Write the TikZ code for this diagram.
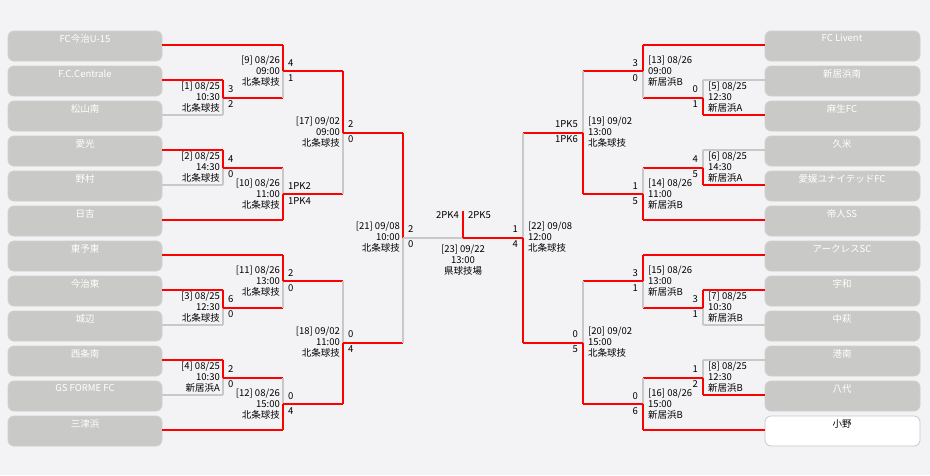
\documentclass[tikz,border=0pt]{standalone}
\usepackage{fontspec}
\setmainfont{Noto Sans CJK JP}
\definecolor{bg}{HTML}{F3F2F5}
\definecolor{boxg}{HTML}{C9CAC7}
\definecolor{lg}{HTML}{C8C8C8}
\tikzset{win/.style={draw=red,line width=2pt},
 lose/.style={draw=lg,line width=2pt},
 team/.style={rounded corners=6pt,fill=boxg,draw=boxg!85!white,line width=0.8pt},
 tname/.style={text=white,font=\fontsize{9.5}{10}\selectfont,anchor=north},
 sc/.style={font=\fontsize{9.5}{10}\selectfont,inner sep=0pt},
 info/.style={font=\fontsize{9.5}{11}\selectfont,inner sep=0pt}}
\newcommand\mt[9]{%
 \pgfmathsetmacro\ym{(#2+#3)/2}%
 \ifnum#4=1 \draw[lose] (#1,\ym)--(#1,#3); \draw[win] (#1,#2)--(#1,\ym);
 \else \draw[lose] (#1,#2)--(#1,\ym); \draw[win] (#1,\ym)--(#1,#3); \fi
 \draw[#6] (#1,\ym)--(#5,\ym);
 \ifnum#7=1
  \node[sc,anchor=west] at (#1+5,\ym-8) {#8};
  \node[sc,anchor=west] at (#1+5,\ym+7) {#9};
 \else
  \node[sc,anchor=east] at (#1-5,\ym-8) {#8};
  \node[sc,anchor=east] at (#1-5,\ym+7) {#9};
 \fi}
\newcommand\minfo[4]{%
 \ifnum#3=1 \node[info,anchor=east,align=right] at (#1-3,#2) {#4};
 \else \node[info,anchor=west,align=left] at (#1+5,#2) {#4}; \fi}
\begin{document}
\begin{tikzpicture}[x=1pt,y=-1pt]
\fill[bg] (0,0) rectangle (930,475);
\useasboundingbox (0,0) rectangle (930,475);
\foreach \n [count=\i from 0] in {FC今治U-15,F.C.Centrale,松山南,愛光,野村,日吉,東予東,今治東,城辺,西条南,GS FORME FC,三津浜}{
 \draw[team] (8,31+35*\i) rectangle (162,61+35*\i);
 \node[tname] (L\i) at (85,31+35*\i) {\n};}
\foreach \n [count=\i from 0] in {FC Livent,新居浜南,麻生FC,久米,愛媛ユナイテッドFC,帝人SS,アークレスSC,宇和,中萩,港南,八代}{
 \draw[team] (765,31+35*\i) rectangle (920,61+35*\i);
 \node[tname] (R\i) at (842,31+35*\i) {\n};}
\draw[rounded corners=6pt,fill=white,draw=lg,line width=0.8pt] (765,416) rectangle (920,446);
\node[tname,text=black] (R11) at (842,416) {小野};
\foreach \r/\xe/\s in {2/223/lose,4/223/lose,8/223/lose,10/223/lose,0/283/win,1/223/win,3/223/win,5/283/win,6/283/win,7/223/win,9/223/win,11/283/win}
 \draw[\s] (162,45+35*\r)--(\xe,45+35*\r);
\foreach \r/\xe/\s in {1/703/lose,3/703/lose,8/703/lose,9/703/lose,0/643/win,2/703/win,4/703/win,5/643/win,6/643/win,7/703/win,10/703/win,11/643/win}
 \draw[\s] (765,45+35*\r)--(\xe,45+35*\r);
\mt{223}{80}{115}{1}{283}{win}{1}{3}{2}\minfo{223}{97.5}{1}{[1] 08/25\\10:30\\北条球技}
\mt{223}{150}{185}{1}{283}{win}{1}{4}{0}\minfo{223}{167.5}{1}{[2] 08/25\\14:30\\北条球技}
\mt{223}{290}{325}{1}{283}{win}{1}{6}{0}\minfo{223}{307.5}{1}{[3] 08/25\\12:30\\北条球技}
\mt{223}{360}{395}{1}{283}{win}{1}{2}{0}\minfo{223}{377.5}{1}{[4] 08/25\\10:30\\新居浜A}
\mt{283}{45}{97.5}{1}{343}{win}{1}{4}{1}\minfo{283}{71.25}{1}{[9] 08/26\\09:00\\北条球技}
\mt{283}{167.5}{220}{0}{343}{win}{1}{1PK2}{1PK4}\minfo{283}{193.75}{1}{[10] 08/26\\11:00\\北条球技}
\mt{283}{255}{307.5}{1}{343}{win}{1}{2}{0}\minfo{283}{281.25}{1}{[11] 08/26\\13:00\\北条球技}
\mt{283}{377.5}{430}{0}{343}{win}{1}{0}{4}\minfo{283}{403.75}{1}{[12] 08/26\\15:00\\北条球技}
\mt{343}{71.25}{193.75}{1}{403}{win}{1}{2}{0}\minfo{343}{132.5}{1}{[17] 09/02\\09:00\\北条球技}
\mt{343}{281.25}{403.75}{0}{403}{win}{1}{0}{4}\minfo{343}{342.5}{1}{[18] 09/02\\11:00\\北条球技}
\mt{403}{132.5}{342.5}{1}{463}{lose}{1}{2}{0}\minfo{403}{237.5}{1}{[21] 09/08\\10:00\\北条球技}
\mt{703}{80}{115}{0}{643}{win}{0}{0}{1}\minfo{703}{97.5}{0}{[5] 08/25\\12:30\\新居浜A}
\mt{703}{150}{185}{0}{643}{win}{0}{4}{5}\minfo{703}{167.5}{0}{[6] 08/25\\14:30\\新居浜A}
\mt{703}{290}{325}{1}{643}{win}{0}{3}{1}\minfo{703}{307.5}{0}{[7] 08/25\\10:30\\新居浜B}
\mt{703}{360}{395}{0}{643}{win}{0}{1}{2}\minfo{703}{377.5}{0}{[8] 08/25\\12:30\\新居浜B}
\mt{643}{45}{97.5}{1}{583}{win}{0}{3}{0}\minfo{643}{71.25}{0}{[13] 08/26\\09:00\\新居浜B}
\mt{643}{167.5}{220}{0}{583}{win}{0}{1}{5}\minfo{643}{193.75}{0}{[14] 08/26\\11:00\\新居浜B}
\mt{643}{255}{307.5}{1}{583}{win}{0}{3}{1}\minfo{643}{281.25}{0}{[15] 08/26\\13:00\\新居浜B}
\mt{643}{377.5}{430}{0}{583}{win}{0}{0}{6}\minfo{643}{403.75}{0}{[16] 08/26\\15:00\\新居浜B}
\mt{583}{71.25}{193.75}{0}{523}{win}{0}{1PK5}{1PK6}\minfo{583}{132.5}{0}{[19] 09/02\\13:00\\北条球技}
\mt{583}{281.25}{403.75}{0}{523}{win}{0}{0}{5}\minfo{583}{342.5}{0}{[20] 09/02\\15:00\\北条球技}
\mt{523}{132.5}{342.5}{0}{463}{win}{0}{1}{4}\minfo{523}{237.5}{0}{[22] 09/08\\12:00\\北条球技}
\draw[win] (463,237.5)--(463,211);
\node[sc,anchor=east] (pkl) at (459,215) {2PK4};
\node[sc,anchor=west] (pkr) at (468,215) {2PK5};
\node[info,align=center,anchor=north] (fin) at (463,245) {[23] 09/22\\13:00\\県球技場};
\end{tikzpicture}
\end{document}
